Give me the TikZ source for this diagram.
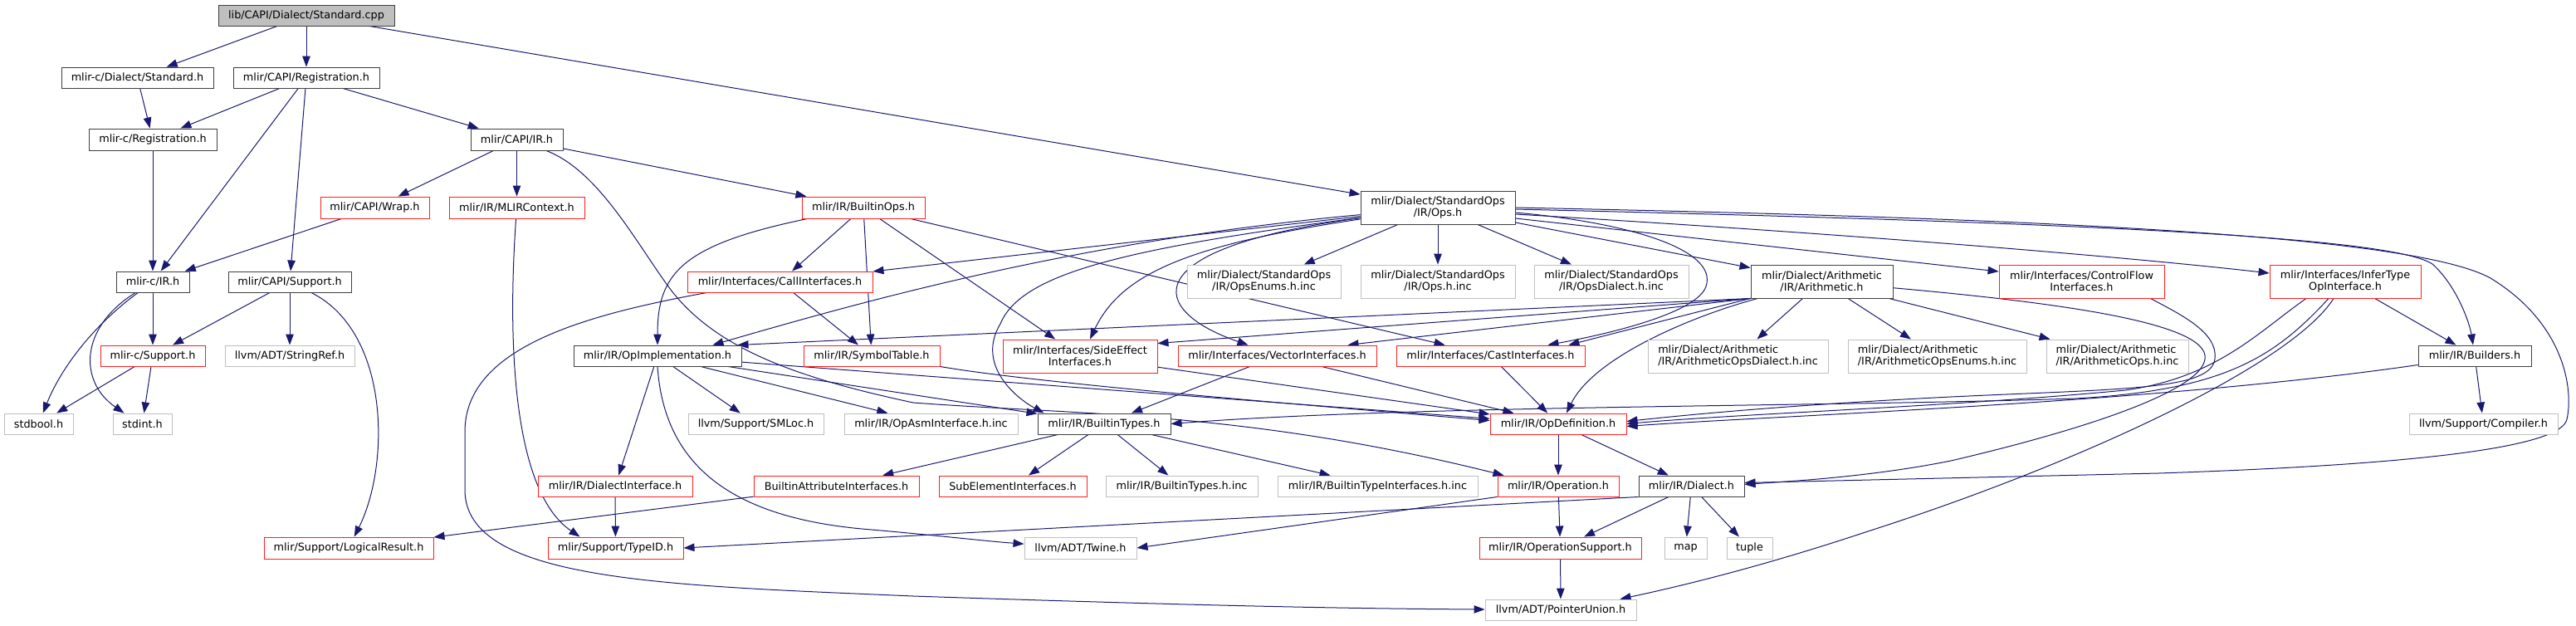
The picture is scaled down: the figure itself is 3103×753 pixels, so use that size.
\documentclass[tikz,border=0pt]{standalone}
\usepackage{fontspec}
\setmainfont{DejaVu Sans}
\usetikzlibrary{arrows.meta,backgrounds}
\definecolor{edgec}{HTML}{191970}
\definecolor{redb}{HTML}{FF2020}
\definecolor{grayb}{HTML}{BFBFBF}
\definecolor{blackb}{HTML}{404040}
\definecolor{topfill}{HTML}{BFBFBF}
\tikzset{
  box/.style={draw, line width=0.95pt, inner sep=0pt, align=center, fill=white,
    font=\fontsize{12.8}{14}\selectfont, text=black},
  sz/.style 2 args={minimum width=#1pt, minimum height=#2pt},
  doc/.style={box, draw=blackb},
  trunc/.style={box, draw=redb},
  ext/.style={box, draw=grayb},
  root/.style={box, draw=blackb, fill=topfill},
  edge/.style={draw=edgec, line width=1pt, -{Triangle[length=13pt,width=9.5pt]}},
}
\begin{document}
\begin{tikzpicture}[x=1pt,y=-1pt]
\useasboundingbox (0,0) rectangle (3103,753);
% nodes
\node[root,sz={212}{25}] (std) at (369,18.5) {lib/CAPI/Dialect/Standard.cpp};
\node[doc,sz={183}{25}] (cstd) at (165.5,93.5) {mlir-c/Dialect/Standard.h};
\node[doc,sz={176}{25}] (capireg) at (369,93.5) {mlir/CAPI/Registration.h};
\node[doc,sz={154}{26}] (creg) at (184,168) {mlir-c/Registration.h};
\node[doc,sz={111}{26}] (capiir) at (622.5,168) {mlir/CAPI/IR.h};
\node[trunc,sz={131}{26}] (wrap) at (451.5,250) {mlir/CAPI/Wrap.h};
\node[trunc,sz={163}{26}] (mlirctx) at (622.5,250) {mlir/IR/MLIRContext.h};
\node[trunc,sz={148}{26}] (bops) at (1040,250) {mlir/IR/BuiltinOps.h};
\node[doc,sz={186}{40}] (ops) at (1732,250) {mlir/Dialect/StandardOps\\/IR/Ops.h};
\node[doc,sz={88}{25}] (cir) at (184,339.5) {mlir-c/IR.h};
\node[doc,sz={148}{25}] (capisup) at (349,339.5) {mlir/CAPI/Support.h};
\node[trunc,sz={223}{25}] (callif) at (939.5,339.5) {mlir/Interfaces/CallInterfaces.h};
\node[ext,sz={185}{40}] (opsenums) at (1522.5,339) {mlir/Dialect/StandardOps\\/IR/OpsEnums.h.inc};
\node[ext,sz={186}{40}] (opsinc) at (1732,339) {mlir/Dialect/StandardOps\\/IR/Ops.h.inc};
\node[ext,sz={186}{40}] (opsdialect) at (1941,339) {mlir/Dialect/StandardOps\\/IR/OpsDialect.h.inc};
\node[doc,sz={171}{40}] (arith) at (2194.5,339) {mlir/Dialect/Arithmetic\\/IR/Arithmetic.h};
\node[trunc,sz={199}{40}] (cfif) at (2507.5,339) {mlir/Interfaces/ControlFlow\\Interfaces.h};
\node[trunc,sz={182}{40}] (infer) at (2825,339) {mlir/Interfaces/InferType\\OpInterface.h};
\node[trunc,sz={126}{25}] (csup) at (184,428.5) {mlir-c/Support.h};
\node[ext,sz={156}{25}] (strref) at (349,428.5) {llvm/ADT/StringRef.h};
\node[doc,sz={202}{25}] (opimpl) at (792,428.5) {mlir/IR/OpImplementation.h};
\node[trunc,sz={164}{25}] (symtab) at (1050,428.5) {mlir/IR/SymbolTable.h};
\node[trunc,sz={186}{40}] (sideeff) at (1301,429) {mlir/Interfaces/SideEffect\\Interfaces.h};
\node[trunc,sz={239}{25}] (vecif) at (1538.5,428.5) {mlir/Interfaces/VectorInterfaces.h};
\node[trunc,sz={227}{25}] (castif) at (1795.5,428.5) {mlir/Interfaces/CastInterfaces.h};
\node[ext,sz={217}{40},align=left] (arithdial) at (2093.5,429) {mlir/Dialect/Arithmetic\\/IR/ArithmeticOpsDialect.h.inc};
\node[ext,sz={215}{40},align=left] (arithenum) at (2333.5,429) {mlir/Dialect/Arithmetic\\/IR/ArithmeticOpsEnums.h.inc};
\node[ext,sz={171}{40},align=left] (arithops) at (2550.5,429) {mlir/Dialect/Arithmetic\\/IR/ArithmeticOps.h.inc};
\node[doc,sz={136}{25}] (builders) at (2981,428.5) {mlir/IR/Builders.h};
\node[ext,sz={83}{25}] (stdbool) at (46.5,510.5) {stdbool.h};
\node[ext,sz={71}{25}] (stdint) at (171.5,510.5) {stdint.h};
\node[ext,sz={163}{25}] (smloc) at (910.5,510.5) {llvm/Support/SMLoc.h};
\node[ext,sz={209}{25}] (opasm) at (1121.5,510.5) {mlir/IR/OpAsmInterface.h.inc};
\node[doc,sz={160}{25}] (btypes) at (1330,510.5) {mlir/IR/BuiltinTypes.h};
\node[trunc,sz={164}{25}] (opdef) at (1877,510.5) {mlir/IR/OpDefinition.h};
\node[ext,sz={179}{25}] (compiler) at (2991.5,510.5) {llvm/Support/Compiler.h};
\node[trunc,sz={186}{25}] (dialif) at (741,585.5) {mlir/IR/DialectInterface.h};
\node[trunc,sz={199}{25}] (battrif) at (1007.5,585.5) {BuiltinAttributeInterfaces.h};
\node[trunc,sz={178}{25}] (subel) at (1220,585.5) {SubElementInterfaces.h};
\node[ext,sz={183}{25}] (btinc) at (1423.5,585.5) {mlir/IR/BuiltinTypes.h.inc};
\node[ext,sz={241}{25}] (btiinc) at (1659.5,585.5) {mlir/IR/BuiltinTypeInterfaces.h.inc};
\node[trunc,sz={146}{25}] (operation) at (1877,585.5) {mlir/IR/Operation.h};
\node[doc,sz={127}{25}] (dialect) at (2037.5,585.5) {mlir/IR/Dialect.h};
\node[trunc,sz={204}{26}] (logres) at (420,660) {mlir/Support/LogicalResult.h};
\node[trunc,sz={163}{26}] (typeid) at (741.5,660) {mlir/Support/TypeID.h};
\node[ext,sz={135}{26}] (twine) at (1301.5,660) {llvm/ADT/Twine.h};
\node[trunc,sz={195}{26}] (opsup) at (1879.5,660) {mlir/IR/OperationSupport.h};
\node[ext,sz={51}{26}] (map) at (2030.5,660) {map};
\node[ext,sz={55}{26}] (tuple) at (2107.5,660) {tuple};
\node[ext,sz={182}{25}] (punion) at (1880,734.5) {llvm/ADT/PointerUnion.h};
% edges
\begin{pgfonlayer}{background}
\draw[edge] (std) -- (cstd);
\draw[edge] (std) -- (capireg);
\draw[edge] (std) -- (ops);
\draw[edge] (cstd) -- (creg);
\draw[edge] (capireg) -- (creg);
\draw[edge] (capireg) -- (cir);
\draw[edge] (capireg) -- (capisup);
\draw[edge] (capireg) -- (capiir);
\draw[edge] (creg) -- (cir);
\draw[edge] (capiir) -- (wrap);
\draw[edge] (capiir) -- (mlirctx);
\draw[edge] (capiir) -- (bops);
\draw[edge] (capiir) .. controls (720,205) and (765,290) .. (805,345) .. controls (860,420) and (960,455) .. (1100,485) .. controls (1300,500) and (1500,495) .. ([xshift=8pt]operation.north west);
\draw[edge] (wrap) -- (cir);
\draw[edge] (cir) -- (csup);
\draw[edge] (cir) .. controls (115,390) and (75,440) .. (stdbool);
\draw[edge] (cir) .. controls (95,395) and (95,460) .. ([xshift=14pt]stdint.north west);
\draw[edge] (capisup) -- (csup);
\draw[edge] (capisup) -- (strref);
\draw[edge] (capisup) .. controls (470,400) and (470,560) .. (logres);
\draw[edge] (csup) -- (stdbool);
\draw[edge] (csup) -- (stdint);
\draw[edge] (mlirctx) .. controls (612,400) and (615,590) .. ([xshift=-43pt]typeid.north);
\draw[edge] (bops) -- (callif);
\draw[edge] ([xshift=7pt]bops.south west) .. controls (820,295) and (792,330) .. (opimpl);
\draw[edge] (bops) -- (symtab);
\draw[edge] (bops) -- (sideeff);
\draw[edge] (bops) -- (castif);
\draw[edge] (callif) -- (symtab);
\draw[edge] ([xshift=24pt]callif.south west) .. controls (700,380) and (560,420) .. (560,520) -- (560,590) .. controls (560,700) and (800,705) .. (1100,718) .. controls (1400,728) and (1600,733) .. (punion);
\draw[edge] (opimpl) -- (dialif);
\draw[edge] (opimpl) -- (smloc);
\draw[edge] (opimpl) -- (opasm);
\draw[edge] (opimpl) -- (btypes);
\draw[edge] (opimpl) -- (opdef);
\draw[edge] (opimpl.south) .. controls (800,560) and (880,625) .. (1050,638) .. controls (1130,645) and (1190,652) .. (twine);
\draw[edge] (symtab.south east) .. controls (1250,462) and (1600,490) .. ([yshift=4pt]opdef.west);
\draw[edge] (sideeff) -- (opdef);
\draw[edge] (vecif) -- (btypes);
\draw[edge] (vecif) -- (opdef);
\draw[edge] (castif) -- (opdef);
\draw[edge] (btypes) -- (battrif);
\draw[edge] (btypes) -- (subel);
\draw[edge] (btypes) -- (btinc);
\draw[edge] (btypes) -- (btiinc);
\draw[edge] (battrif) -- (logres);
\draw[edge] (dialif) -- (typeid);
\draw[edge] (opdef) -- (operation);
\draw[edge] (opdef) -- (dialect);
\draw[edge] (operation) -- (opsup);
\draw[edge] (operation.south west) -- (twine.east);
\draw[edge] (dialect) -- (opsup);
\draw[edge] (dialect) -- (map);
\draw[edge] (dialect) -- (tuple);
\draw[edge] (dialect.south west) -- (typeid.east);
\draw[edge] (opsup) -- (punion);
% from Ops.h
\draw[edge] (ops) -- (opsenums);
\draw[edge] (ops) -- (opsinc);
\draw[edge] (ops) -- (opsdialect);
\draw[edge] (ops) -- (arith);
\draw[edge] ([yshift=-13pt]ops.east) -- ([yshift=12pt]cfif.west);
\draw[edge] ([yshift=-8pt]ops.east) .. controls (2200,280) and (2550,308) .. ([yshift=10pt]infer.west);
\draw[edge] ([yshift=-2pt]ops.east) .. controls (2500,268) and (2880,285) .. (2930,318) .. controls (2960,345) and (2975,390) .. (builders);
\draw[edge] (ops.east) .. controls (2400,262) and (2900,280) .. (3000,335) .. controls (3090,390) and (3100,470) .. (3092,505) .. controls (3085,540) and (2900,560) .. (2600,570) -- ([yshift=4pt]dialect.east);
\draw[edge] ([yshift=-6pt]ops.east) .. controls (1960,268) and (2070,300) .. (2055,345) .. controls (2045,375) and (1950,400) .. ([xshift=-45pt]castif.north east);
\draw[edge] (ops) -- (callif);
\draw[edge] (ops) .. controls (1300,290) and (1050,360) .. ([xshift=-35pt]opimpl.north east);
\draw[edge] (ops) .. controls (1350,300) and (1230,330) .. (1205,390) .. controls (1175,440) and (1225,480) .. ([xshift=8pt]btypes.north west);
\draw[edge] (ops) .. controls (1430,295) and (1350,330) .. ([xshift=12pt]sideeff.north);
\draw[edge] (ops) .. controls (1360,300) and (1385,375) .. ([xshift=-35pt]vecif.north);
% from Arithmetic.h
\draw[edge] (arith.south west) -- ([xshift=-5pt]opimpl.north east);
\draw[edge] (arith.south west) -- ([yshift=-5pt]sideeff.north east);
\draw[edge] (arith.south west) -- ([xshift=-35pt]vecif.north east);
\draw[edge] (arith.south west) -- ([xshift=-20pt]castif.north east);
\draw[edge] (arith) .. controls (2040,380) and (1920,430) .. ([xshift=10pt]opdef.north);
\draw[edge] (arith) -- (arithdial);
\draw[edge] (arith) -- (arithenum);
\draw[edge] (arith) -- (arithops);
\draw[edge] (arith) .. controls (2450,362) and (2650,385) .. (2656,428) .. controls (2662,470) and (2500,520) .. (2350,555) .. controls (2250,575) and (2150,580) .. ([yshift=2pt]dialect.east);
% ControlFlow / InferType / Builders
\draw[edge] ([xshift=-17pt]cfif.south east) .. controls (2625,378) and (2672,400) .. (2668,432) .. controls (2664,470) and (2560,468) .. (2350,478) .. controls (2150,488) and (2030,500) .. ([yshift=3pt]opdef.east);
\draw[edge] ([xshift=-47pt]infer.south) .. controls (2720,400) and (2670,455) .. (2560,470) .. controls (2350,490) and (2100,498) .. (opdef.east);
\draw[edge] ([xshift=-20pt]infer.south) .. controls (2740,430) and (2680,470) .. (2500,480) .. controls (2200,490) and (1700,488) .. (btypes.east);
\draw[edge] ([xshift=-14pt]infer.south) .. controls (2760,440) and (2500,560) .. (2250,640) .. controls (2130,680) and (2030,705) .. ([xshift=-20pt]punion.north east);
\draw[edge] (infer) -- (builders);
\draw[edge] ([yshift=-11pt]builders.west) .. controls (2600,485) and (2150,500) .. ([yshift=-3pt]opdef.east);
\draw[edge] (builders) -- (compiler);
\end{pgfonlayer}
\end{tikzpicture}
\end{document}
